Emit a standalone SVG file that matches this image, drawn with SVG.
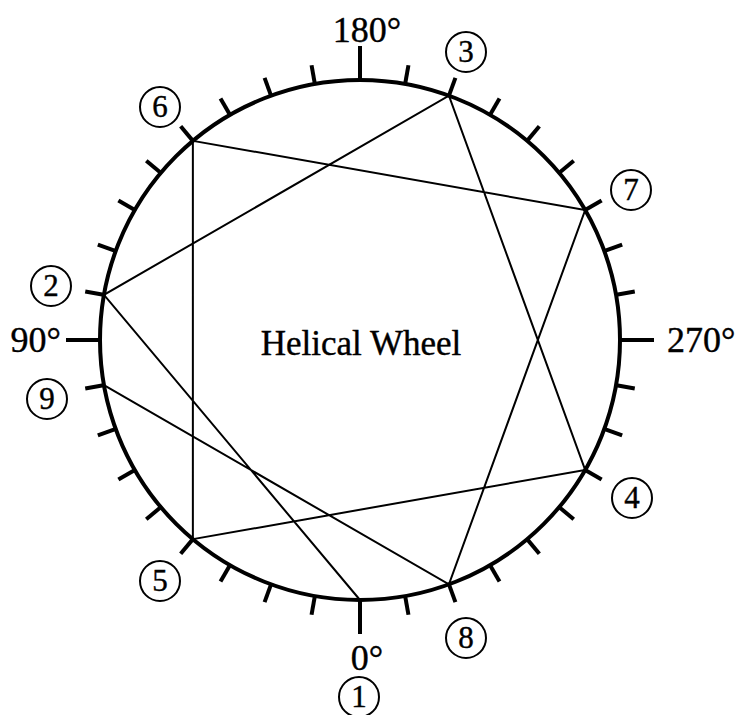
<svg xmlns="http://www.w3.org/2000/svg" width="743" height="715" viewBox="0 0 743 715">
<style>
.t{font-family:"Liberation Serif","Times New Roman",serif;fill:#000;stroke:#000;stroke-width:0.4}
.deg{font-size:36px}
.ttl{font-size:35px}
.num{font-size:31px;text-anchor:middle}
.lab{fill:none;stroke:#000;stroke-width:2}
.tick{stroke:#000;stroke-width:4}
.chord{stroke:#000;stroke-width:2;fill:none}
</style>
<defs>
<line id="mi" class="tick" x1="360" y1="599" x2="360" y2="619"/>
<line id="ma" class="tick" x1="360" y1="599" x2="360" y2="634"/>
</defs>
<g id="wheel">
<circle cx="360" cy="340" r="260" fill="none" stroke="#000" stroke-width="4"/>
</g>
<g id="ticks">
<use href="#ma"/>
<use href="#mi" transform="rotate(10 360 340)"/>
<use href="#mi" transform="rotate(20 360 340)"/>
<use href="#mi" transform="rotate(30 360 340)"/>
<use href="#mi" transform="rotate(40 360 340)"/>
<use href="#mi" transform="rotate(50 360 340)"/>
<use href="#mi" transform="rotate(60 360 340)"/>
<use href="#mi" transform="rotate(70 360 340)"/>
<use href="#mi" transform="rotate(80 360 340)"/>
<use href="#ma" transform="rotate(90 360 340)"/>
<use href="#mi" transform="rotate(100 360 340)"/>
<use href="#mi" transform="rotate(110 360 340)"/>
<use href="#mi" transform="rotate(120 360 340)"/>
<use href="#mi" transform="rotate(130 360 340)"/>
<use href="#mi" transform="rotate(140 360 340)"/>
<use href="#mi" transform="rotate(150 360 340)"/>
<use href="#mi" transform="rotate(160 360 340)"/>
<use href="#mi" transform="rotate(170 360 340)"/>
<use href="#ma" transform="rotate(180 360 340)"/>
<use href="#mi" transform="rotate(190 360 340)"/>
<use href="#mi" transform="rotate(200 360 340)"/>
<use href="#mi" transform="rotate(210 360 340)"/>
<use href="#mi" transform="rotate(220 360 340)"/>
<use href="#mi" transform="rotate(230 360 340)"/>
<use href="#mi" transform="rotate(240 360 340)"/>
<use href="#mi" transform="rotate(250 360 340)"/>
<use href="#mi" transform="rotate(260 360 340)"/>
<use href="#ma" transform="rotate(270 360 340)"/>
<use href="#mi" transform="rotate(280 360 340)"/>
<use href="#mi" transform="rotate(290 360 340)"/>
<use href="#mi" transform="rotate(300 360 340)"/>
<use href="#mi" transform="rotate(310 360 340)"/>
<use href="#mi" transform="rotate(320 360 340)"/>
<use href="#mi" transform="rotate(330 360 340)"/>
<use href="#mi" transform="rotate(340 360 340)"/>
<use href="#mi" transform="rotate(350 360 340)"/>
</g>
<g id="connectors">
<polyline class="chord" points="360,600 103.95,294.85 448.93,95.68 585.17,470 192.87,539.17 192.87,140.83 585.17,210 448.93,584.32 103.95,385.15"/>
</g>
<g id="degree-labels">
<text class="t deg" x="367" y="42" text-anchor="middle">180°</text>
<text class="t deg" x="61" y="352" text-anchor="end">90°</text>
<text class="t deg" x="667" y="352">270°</text>
<text class="t deg" x="367" y="670" text-anchor="middle">0°</text>
</g>
<g id="title"><text class="t ttl" x="361" y="355" text-anchor="middle">Helical Wheel</text></g>
<g id="n1"><circle class="lab" cx="359" cy="697" r="20"/><text class="t num" x="359" y="707">1</text></g>
<g id="n2"><circle class="lab" cx="51" cy="286" r="20"/><text class="t num" x="51" y="296">2</text></g>
<g id="n3"><circle class="lab" cx="466" cy="52" r="20"/><text class="t num" x="466" y="62">3</text></g>
<g id="n4"><circle class="lab" cx="632" cy="498" r="20"/><text class="t num" x="632" y="508">4</text></g>
<g id="n5"><circle class="lab" cx="160" cy="581" r="20"/><text class="t num" x="160" y="591">5</text></g>
<g id="n6"><circle class="lab" cx="160" cy="107" r="20"/><text class="t num" x="160" y="117">6</text></g>
<g id="n7"><circle class="lab" cx="631" cy="190" r="20"/><text class="t num" x="631" y="200">7</text></g>
<g id="n8"><circle class="lab" cx="466" cy="638" r="20"/><text class="t num" x="466" y="648">8</text></g>
<g id="n9"><circle class="lab" cx="47" cy="399" r="20"/><text class="t num" x="47" y="409">9</text></g>
</svg>
